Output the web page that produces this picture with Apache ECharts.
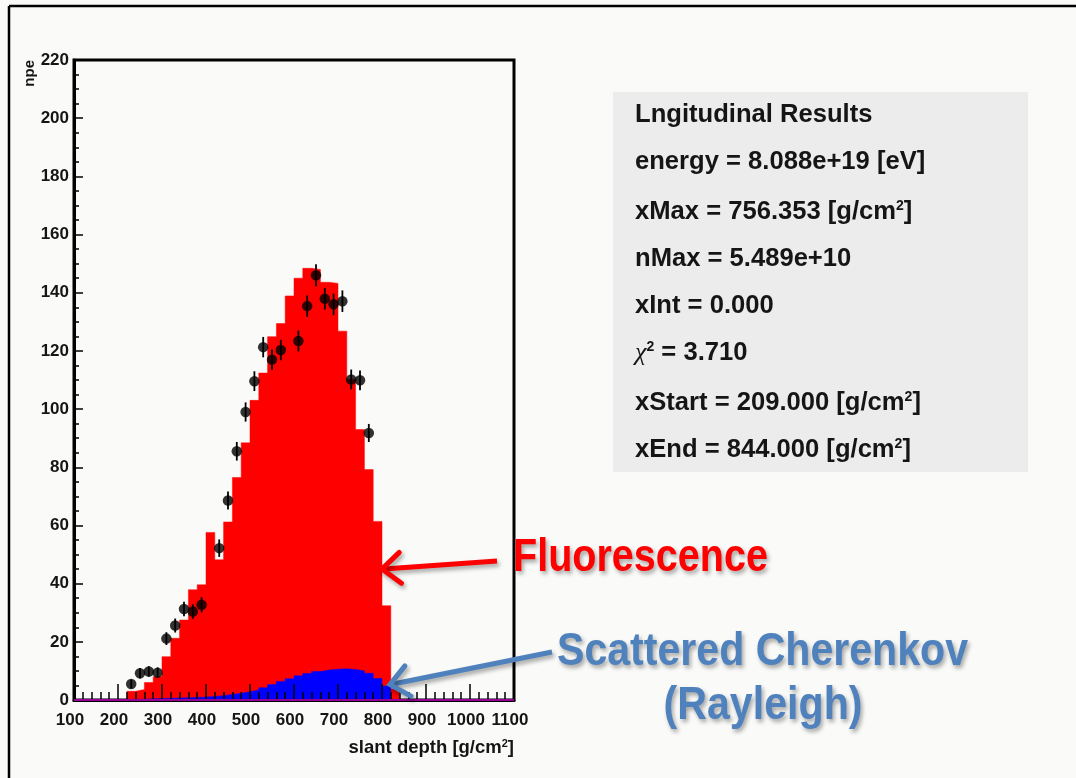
<!DOCTYPE html>
<html>
<head>
<meta charset="utf-8">
<title>Longitudinal profile</title>
<script src="https://cdn.jsdelivr.net/npm/echarts@6/dist/echarts.min.js"></script>
<style>
  html, body { margin: 0; padding: 0; background: #fafbf9; }
  #chart { width: 1076px; height: 778px; }
</style>
</head>
<body>
<div id="chart"></div>
<script>
// Histogram binning (slant depth, g/cm^2)
const binWidth = 20;
const binLow = [220, 240, 260, 280, 300, 320, 340, 360, 380, 400, 420, 440, 460, 480, 500, 520,
                540, 560, 580, 600, 620, 640, 660, 680, 700, 720, 740, 760, 780, 800, 820];

// Expected photoelectrons per bin: total light (fluorescence) and scattered Cherenkov part
const fluorescence = [3.0, 3.6, 6.0, 8.0, 14.9, 21.2, 27.5, 37.9, 39.6, 57.6, 48.2, 61.2, 76.5, 88.4, 103.0, 112.4,
                      124.9, 129.4, 138.9, 145.0, 148.4, 148.0, 143.6, 143.2, 126.8, 110.2, 93.0, 79.2, 61.4, 32.4, 3.8];
const cherenkov = [0.2, 0.3, 0.4, 0.5, 0.6, 0.7, 0.8, 0.9, 1.0, 1.2, 1.5, 1.9, 2.3, 2.8, 3.4, 4.2,
                   5.3, 6.4, 7.3, 8.3, 9.1, 9.8, 10.3, 10.6, 10.7, 10.5, 10.0, 9.2, 7.4, 4.8, 0.0];

// Measured profile points with errors
const depth = [230, 250, 270, 290, 310, 330, 350, 370, 390, 430, 450, 470, 490, 510, 530, 550,
               570, 610, 630, 650, 670, 690, 710, 730, 750, 770];
const npe = [5.5, 9.2, 9.8, 9.4, 21.1, 25.6, 31.3, 30.4, 32.7, 52.2, 68.6, 85.5, 99.0, 109.6, 121.3, 117.0,
             120.3, 123.4, 135.4, 146.0, 137.9, 136.0, 137.1, 110.2, 109.9, 91.8];
const npeErr = [1.5, 1.8, 1.8, 1.8, 2.2, 2.4, 2.5, 2.5, 2.6, 3.0, 3.1, 3.2, 3.3, 3.4, 3.5, 3.5,
                3.5, 3.6, 3.7, 3.8, 3.7, 3.7, 3.7, 3.4, 3.4, 3.1];

// Axis ranges
const xRange = [100, 1100], xStep = 100;
const yRange = [0, 220], yStep = 20;

// Fit summary lines
const statsTitle = 'Lngitudinal Results';
const statsLines = [
  'energy = 8.088e+19 [eV]',
  'xMax = 756.353 [g/cm{sup|2}]',
  'nMax = 5.489e+10',
  'xInt = 0.000',
  '{chi|\u03c7}{sup|2} = 3.710',
  'xStart = 209.000 [g/cm{sup|2}]',
  'xEnd = 844.000 [g/cm{sup|2}]'
];

const SANS = "'Liberation Sans', Arial, Helvetica, sans-serif";
const INK = '#151515';

function histSteps(values) {
  const pts = binLow.map((x, i) => [x, values[i]]);
  const n = binLow.length - 1;
  pts.push([binLow[n] + binWidth, values[n]]);
  return pts;
}

// text width helper, used to condense the callout labels to their slot widths
const measureCtx = document.createElement('canvas').getContext('2d');
function textWidth(text, size, weight) {
  measureCtx.font = weight + ' ' + size + 'px ' + SANS;
  return measureCtx.measureText(text).width;
}

const chart = echarts.init(document.getElementById('chart'), null, { renderer: 'canvas' });

chart.setOption({
  backgroundColor: '#fafbf9',
  animation: false,
  grid: {
    left: 74, right: 562, top: 60, bottom: 78,
    show: true, borderColor: '#000', borderWidth: 3, backgroundColor: 'transparent'
  },
  xAxis: {
    type: 'value', min: xRange[0], max: xRange[1], interval: xStep, z: 5,
    axisLine: { show: true, onZero: false, lineStyle: { color: '#000', width: 3 } },
    axisTick: { show: true, inside: true, length: 16, lineStyle: { color: '#000', width: 1.5 } },
    minorTick: { show: true, splitNumber: 5, length: 8, lineStyle: { color: '#000', width: 1.5 } },
    axisLabel: {
      margin: 12, fontSize: 17, fontWeight: 'bold', fontFamily: SANS, color: INK, padding: [0, 8, 0, 0],
      formatter: (v) => String(v)
    },
    splitLine: { show: false }
  },
  yAxis: {
    type: 'value', min: yRange[0], max: yRange[1], interval: yStep, z: 5,
    axisLine: { show: true, onZero: false, lineStyle: { color: '#000', width: 3 } },
    axisTick: { show: true, inside: true, length: 9, lineStyle: { color: '#000', width: 1.5 } },
    minorTick: { show: true, splitNumber: 4, length: 5, lineStyle: { color: '#000', width: 1.5 } },
    axisLabel: { margin: 5, fontSize: 17, fontWeight: 'bold', fontFamily: SANS, color: INK, formatter: (v) => String(v) },
    splitLine: { show: false }
  },
  series: [
    {
      name: 'Fluorescence', type: 'line', step: 'end', data: histSteps(fluorescence),
      symbol: 'none', z: 2,
      lineStyle: { color: '#ff0000', width: 0.5 },
      areaStyle: { color: '#ff0000', opacity: 1 }
    },
    {
      name: 'Scattered Cherenkov', type: 'line', step: 'end', data: histSteps(cherenkov),
      symbol: 'none', z: 3,
      lineStyle: { color: '#0000ff', width: 0.5 },
      areaStyle: { color: '#0000ff', opacity: 1 }
    },
    {
      name: 'baseline', type: 'line', data: [[xRange[0], 0], [xRange[1], 0]],
      symbol: 'none', z: 6, clip: false,
      lineStyle: { color: '#c800c8', width: 1.5 }
    },
    {
      name: 'errors', type: 'custom', z: 7,
      data: depth.map((x, i) => [x, npe[i], npeErr[i]]),
      encode: { x: 0, y: 1 },
      renderItem: function (params, api) {
        const x = api.value(0), y = api.value(1), e = api.value(2);
        const lo = api.coord([x, y - e]);
        const hi = api.coord([x, y + e]);
        return {
          type: 'line',
          shape: { x1: lo[0], y1: lo[1], x2: hi[0], y2: hi[1] },
          style: { stroke: '#000', lineWidth: 1.8 }
        };
      }
    },
    {
      name: 'data', type: 'scatter', z: 8,
      data: depth.map((x, i) => [x, npe[i]]),
      symbol: 'circle', symbolSize: 10.5,
      itemStyle: { color: '#000' }
    }
  ]
});

// Annotations: axis titles, fit summary box, callout labels and arrows
function arrow(tip, tail, color) {
  const dx = tail[0] - tip[0], dy = tail[1] - tip[1];
  const L = Math.hypot(dx, dy), ux = dx / L, uy = dy / L;
  const ang = 40 * Math.PI / 180, len = 24;
  const arm = (a) => [tip[0] + len * (ux * Math.cos(a) - uy * Math.sin(a)),
                      tip[1] + len * (ux * Math.sin(a) + uy * Math.cos(a))];
  const shadow = { shadowColor: 'rgba(0,0,0,0.35)', shadowBlur: 4, shadowOffsetX: 2, shadowOffsetY: 3 };
  return [
    { type: 'line', z: 100, shape: { x1: tail[0], y1: tail[1], x2: tip[0] + ux * 2, y2: tip[1] + uy * 2 },
      style: Object.assign({ stroke: color, lineWidth: 5 }, shadow) },
    { type: 'polyline', z: 100, shape: { points: [arm(ang), tip, arm(-ang)] },
      style: Object.assign({ stroke: color, fill: null, lineWidth: 5, lineJoin: 'miter', lineCap: 'round' }, shadow) }
  ];
}

const toPx = (p) => chart.convertToPixel({ xAxisIndex: 0, yAxisIndex: 0 }, p);
const redTip = toPx([800, 45]);
const blueTip = toPx([818, 5.3]);
const plotTopLeft = toPx([xRange[0], yRange[1]]);
const plotBottomRight = toPx([xRange[1], yRange[0]]);

const statsY = [115, 162, 212, 259, 306, 353, 403, 450];
const statsFont = { fontSize: 25.6, fontWeight: 'bold', fontFamily: SANS };
const statsElements = [
  { type: 'rect', z: 50, shape: { x: 613, y: 92, width: 415, height: 380 }, style: { fill: '#ececec' } },
  { type: 'text', z: 51, style: Object.assign({ text: statsTitle, x: 635, y: statsY[0], fill: INK, verticalAlign: 'middle' }, statsFont) }
].concat(statsLines.map((t, i) => ({
  type: 'text', z: 51,
  style: Object.assign({
    text: t, x: 635, y: statsY[i + 1], fill: INK, verticalAlign: 'middle',
    rich: {
      sup: { fontSize: 14, fontWeight: 'bold', fontFamily: SANS, fill: INK, verticalAlign: 'top', lineHeight: 14 },
      chi: { fontSize: 26, fontStyle: 'italic', fontFamily: "'Liberation Serif', 'DejaVu Serif', serif", fill: INK }
    }
  }, statsFont)
})));

const axisTitles = [
  { type: 'text', z: 60, x: plotTopLeft[0] - 44, y: plotTopLeft[1], rotation: Math.PI / 2,
    style: { text: 'npe', x: 0, y: 0, align: 'right', verticalAlign: 'middle',
             fontSize: 15, fontWeight: 'bold', fontFamily: SANS, fill: INK } },
  { type: 'text', z: 60, x: plotBottomRight[0], y: plotBottomRight[1] + 48,
    style: { text: 'slant depth [g/cm{sup|2}]', x: 0, y: 0, align: 'right', verticalAlign: 'middle',
             fontSize: 18.5, fontWeight: 'bold', fontFamily: SANS, fill: INK,
             rich: { sup: { fontSize: 11, fontWeight: 'bold', fontFamily: SANS, fill: INK, verticalAlign: 'top', lineHeight: 12 } } } }
];

const labelShadow = { textShadowColor: 'rgba(0,0,0,0.35)', textShadowBlur: 4, textShadowOffsetX: 2, textShadowOffsetY: 3 };
function callout(text, x, y, width, color, align) {
  const size = 46;
  const sx = width / textWidth(text, size, 'bold');
  return {
    type: 'text', z: 100, x: x, y: y, scaleX: sx,
    style: Object.assign({ text: text, x: 0, y: 0, fill: color, fontSize: size, fontWeight: 'bold',
                           fontFamily: SANS, align: align, verticalAlign: 'middle' }, labelShadow)
  };
}

chart.setOption({
  graphic: [
    { type: 'line', z: 100, shape: { x1: 9, y1: 6, x2: 1076, y2: 6 }, style: { stroke: '#000', lineWidth: 2.5 } },
    { type: 'line', z: 100, shape: { x1: 9, y1: 6, x2: 9, y2: 778 }, style: { stroke: '#000', lineWidth: 2.5 } }
  ].concat(axisTitles).concat(statsElements).concat([
    callout('Fluorescence', 513, 558, 255, '#ff0000', 'left'),
    callout('Scattered Cherenkov', 557, 652, 411, '#4f81bd', 'left'),
    callout('(Rayleigh)', 763, 706, 199, '#4f81bd', 'center')
  ]).concat(arrow(redTip, [497, 561], '#ff0000')).concat(arrow(blueTip, [552, 652], '#4f81bd'))
});
</script>
</body>
</html>
